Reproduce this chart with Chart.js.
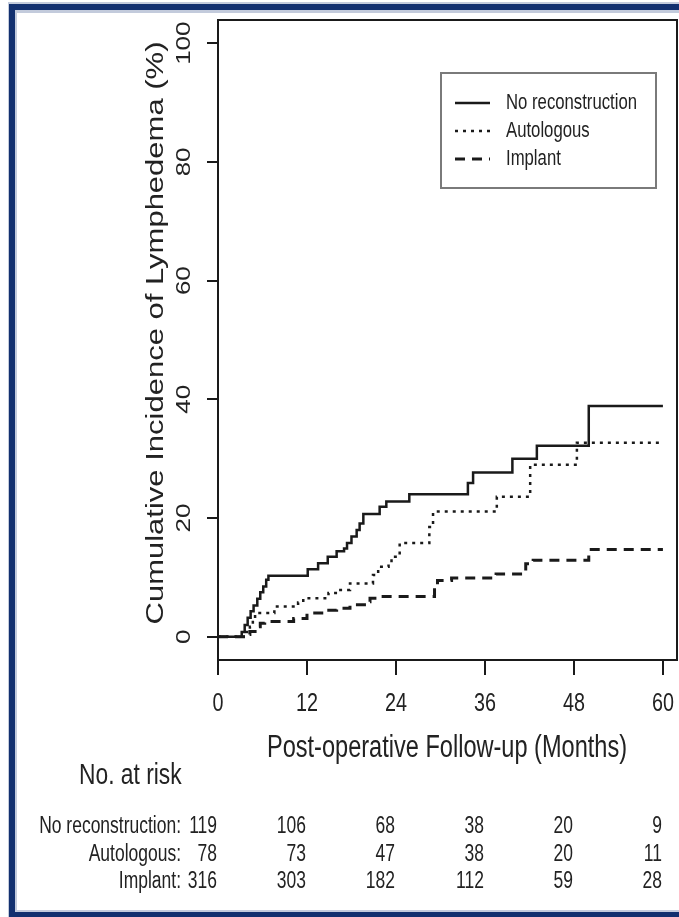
<!DOCTYPE html>
<html>
<head>
<meta charset="utf-8">
<script src="https://cdn.jsdelivr.net/npm/chart.js@4.4.0/dist/chart.umd.min.js"></script>
<style>
  html, body { margin: 0; padding: 0; background: #fff; }
  #wrap { width: 679px; height: 917px; position: relative; }
</style>
</head>
<body>
<div id="wrap"><canvas id="km"></canvas></div>
<script>
// cumulative incidence curves (months, %)
const seriesNames = ['No reconstruction', 'Autologous', 'Implant'];

const noReconMonths = [0, 3.2, 3.6, 4.0, 4.4, 4.8, 5.3, 5.7, 6.1, 6.5, 6.8, 12.1, 13.5, 14.8, 16.0, 17.0, 17.4, 18.0, 18.7, 19.1, 19.6, 21.8, 22.7, 25.8, 33.7, 34.4, 39.7, 43.0, 50.0, 60];
const noReconPct    = [0, 0.8, 2.0, 3.2, 4.3, 5.3, 6.4, 7.5, 8.5, 9.6, 10.3, 11.4, 12.4, 13.5, 14.4, 14.9, 15.8, 16.9, 18.0, 19.1, 20.7, 21.9, 22.8, 24.0, 25.9, 27.7, 30.0, 32.2, 38.9, 38.9];

const autoMonths = [0, 3.8, 4.3, 4.7, 5.0, 5.4, 7.6, 10.8, 11.5, 14.9, 16.2, 17.8, 20.9, 21.6, 23.0, 23.4, 24.5, 28.5, 29.0, 37.6, 42.1, 48.4, 60];
const autoPct    = [0, 0.8, 1.7, 2.9, 3.7, 4.0, 5.1, 5.8, 6.5, 7.4, 7.9, 9.0, 10.4, 11.8, 12.4, 13.5, 15.8, 18.5, 21.1, 23.6, 29.0, 32.7, 32.7];

const implantMonths = [0, 3.8, 4.3, 5.0, 5.7, 6.3, 10.2, 12.0, 14.2, 16.0, 17.8, 20.0, 20.5, 21.8, 29.2, 29.6, 31.5, 37.5, 41.5, 42.5, 50.0, 60];
const implantPct    = [0, 0.4, 0.9, 1.7, 2.3, 2.6, 3.1, 4.0, 4.5, 4.8, 5.4, 5.9, 6.5, 6.8, 8.5, 9.5, 9.9, 10.6, 12.3, 12.9, 14.7, 14.7];

const xTicks = [0, 12, 24, 36, 48, 60];
const yTicks = [0, 20, 40, 60, 80, 100];

// number at risk table
const riskTimes = [0, 12, 24, 36, 48, 60];
const riskLabels = ['No reconstruction:', 'Autologous:', 'Implant:'];
const riskNoRecon = [119, 106, 68, 38, 20, 9];
const riskAuto = [78, 73, 47, 38, 20, 11];
const riskImplant = [316, 303, 182, 112, 59, 28];

const xTitle = 'Post-operative Follow-up (Months)';
const yTitle = 'Cumulative Incidence of Lymphedema (%)';

// the source image is squashed horizontally, so text gets squeezed too
const SQUEEZE = 0.76;
const INK = '#1a1a1a';

function squeezedText(ctx, str, x, y, size, align, vertical) {
    ctx.save();
    ctx.translate(x, y);
    ctx.scale(SQUEEZE, 1);
    if (vertical) ctx.rotate(-Math.PI / 2);
    ctx.font = size + 'px "Liberation Sans", Arial, sans-serif';
    ctx.textAlign = align;
    ctx.textBaseline = 'middle';
    ctx.fillStyle = '#222';
    ctx.fillText(str, 0, 0);
    ctx.restore();
}

function series(label, xs, ys, dash, width) {
    return {
        label: label,
        data: xs.map((m, i) => ({ x: m, y: ys[i] })),
        borderColor: INK,
        borderWidth: width,
        borderDash: dash,
        stepped: 'before',
        pointRadius: 0,
        fill: false
    };
}

const figurePlugin = {
    id: 'figurePlugin',
    beforeDraw(chart) {
        const ctx = chart.ctx;
        ctx.save();
        ctx.fillStyle = '#fff';
        ctx.fillRect(0, 0, chart.width, chart.height);
        // navy frame of the figure (right side is cut off)
        ctx.fillStyle = '#c3cbdc';
        ctx.fillRect(8, 2, chart.width, 11);
        ctx.fillRect(8, 2, 9, chart.height);
        ctx.fillRect(8, 910, chart.width, 7);
        ctx.fillStyle = '#12306f';
        ctx.fillRect(9, 4, chart.width, 6);
        ctx.fillRect(9, 4, 6, chart.height);
        ctx.fillRect(9, 912, chart.width, 5);
        ctx.restore();
    },
    afterDraw(chart) {
        const ctx = chart.ctx;
        const area = chart.chartArea;
        const xs = chart.scales.x;
        const ys = chart.scales.y;

        // box around the plot
        ctx.save();
        ctx.strokeStyle = INK;
        ctx.lineWidth = 2;
        ctx.strokeRect(area.left, area.top, area.right - area.left, area.bottom - area.top);
        ctx.restore();

        // tick labels
        xs.ticks.forEach(t => squeezedText(ctx, String(t.value), xs.getPixelForValue(t.value), 704, 26, 'center', false));
        ys.ticks.forEach(t => squeezedText(ctx, String(t.value), 185, ys.getPixelForValue(t.value), 26, 'center', true));

        // axis titles
        squeezedText(ctx, xTitle, 447, 748, 31, 'center', false);
        squeezedText(ctx, yTitle, 157, 333, 31, 'center', true);

        // legend
        ctx.save();
        ctx.strokeStyle = '#7a7a7a';
        ctx.lineWidth = 2;
        ctx.strokeRect(441, 73, 215, 115);
        const rows = [103, 131, 159];
        chart.data.datasets.forEach((ds, i) => {
            ctx.save();
            ctx.strokeStyle = ds.borderColor;
            ctx.lineWidth = ds.borderWidth;
            ctx.setLineDash(ds.borderDash);
            ctx.beginPath();
            ctx.moveTo(455, rows[i]);
            ctx.lineTo(490, rows[i]);
            ctx.stroke();
            ctx.restore();
            squeezedText(ctx, ds.label, 506, rows[i], 22, 'left', false);
        });
        ctx.restore();

        // number at risk
        squeezedText(ctx, 'No. at risk', 79, 776, 30, 'left', false);
        const riskRows = [riskNoRecon, riskAuto, riskImplant];
        const riskY = [827, 855, 882];
        riskRows.forEach((vals, r) => {
            squeezedText(ctx, riskLabels[r], 181, riskY[r], 23, 'right', false);
            vals.forEach((v, i) => {
                squeezedText(ctx, String(v), xs.getPixelForValue(riskTimes[i]) - 1, riskY[r], 23, 'right', false);
            });
        });
    }
};

new Chart(document.getElementById('km'), {
    type: 'line',
    data: {
        datasets: [
            series(seriesNames[0], noReconMonths, noReconPct, [], 2.5),
            series(seriesNames[1], autoMonths, autoPct, [3, 5], 2.5),
            series(seriesNames[2], implantMonths, implantPct, [10, 7], 3)
        ]
    },
    options: {
        responsive: true,
        maintainAspectRatio: false,
        animation: false,
        layout: { padding: { top: 20, right: 2, bottom: 242, left: 0 } },
        plugins: {
            legend: { display: false },
            tooltip: { enabled: false }
        },
        scales: {
            x: {
                type: 'linear',
                min: 0,
                max: 61.9,
                afterBuildTicks: s => { s.ticks = xTicks.map(v => ({ value: v })); },
                afterFit: s => { s.height = 15; },
                ticks: { display: false },
                grid: { drawOnChartArea: false, tickLength: 15, color: INK, lineWidth: 2 },
                border: { color: INK, width: 2 }
            },
            y: {
                type: 'linear',
                min: -3.9,
                max: 103.9,
                afterBuildTicks: s => { s.ticks = yTicks.map(v => ({ value: v })); },
                afterFit: s => { s.width = 218; },
                ticks: { display: false },
                grid: { drawOnChartArea: false, tickLength: 11, color: INK, lineWidth: 2 },
                border: { color: INK, width: 2 }
            }
        }
    },
    plugins: [figurePlugin]
});
</script>
</body>
</html>
